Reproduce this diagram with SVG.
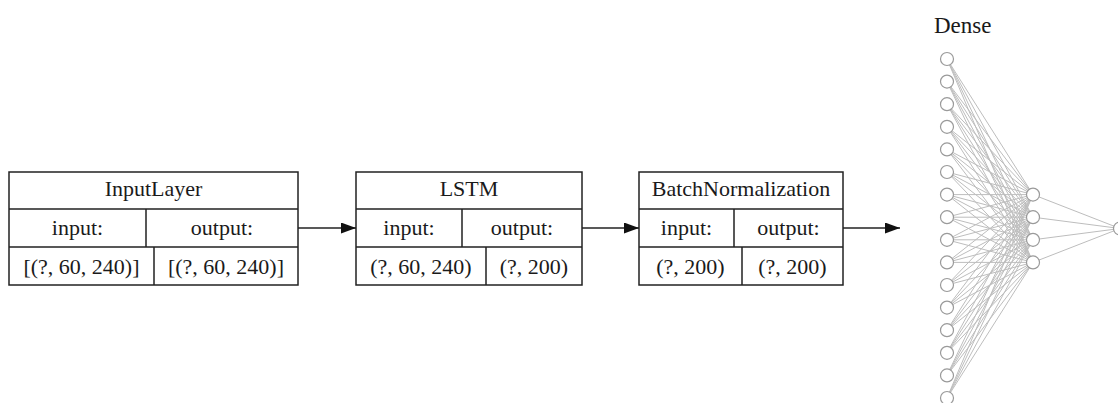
<svg xmlns="http://www.w3.org/2000/svg" width="1118" height="403" viewBox="0 0 1118 403">
<style>
.box{fill:#fff;stroke:#222;stroke-width:1.5}
.div{stroke:#222;stroke-width:1.5;fill:none}
.t{font-family:"Liberation Serif","Times New Roman",serif;font-size:22px;fill:#1a1a1a;text-anchor:middle}
.edge{stroke:#222;stroke-width:1.5;fill:none}
.syn{stroke:#bdbdbd;stroke-width:1;fill:none}
.neu{fill:#fff;stroke:#9a9a9a;stroke-width:1.2}
</style>
<defs>
<marker id="ah" markerUnits="userSpaceOnUse" markerWidth="16" markerHeight="12" refX="15" refY="5.5" orient="auto">
<path d="M0,0 L15,5.5 L0,11 z" fill="#111"/>
</marker>
</defs>
<rect width="1118" height="403" fill="#fff"/>

<g id="connectors">
<line class="edge" x1="298" y1="228" x2="356" y2="228" marker-end="url(#ah)"/>
<line class="edge" x1="582" y1="228" x2="639" y2="228" marker-end="url(#ah)"/>
<line class="edge" x1="843" y1="228" x2="900" y2="228" marker-end="url(#ah)"/>
</g>

<g id="inputlayer">
<rect class="box" x="9" y="172" width="289" height="113"/>
<path class="div" d="M9 209H298M9 247H298M146 209V247M154 247V285"/>
<text class="t" x="153.5" y="196">InputLayer</text>
<text class="t" x="77.5" y="235">input:</text>
<text class="t" x="222" y="235">output:</text>
<text class="t" x="81.5" y="274">[(?, 60, 240)]</text>
<text class="t" x="226" y="274">[(?, 60, 240)]</text>
</g>

<g id="lstm">
<rect class="box" x="356" y="172" width="226" height="113"/>
<path class="div" d="M356 209H582M356 247H582M462 209V247M486 247V285"/>
<text class="t" x="469" y="196">LSTM</text>
<text class="t" x="409" y="235">input:</text>
<text class="t" x="522" y="235">output:</text>
<text class="t" x="421" y="274">(?, 60, 240)</text>
<text class="t" x="534" y="274">(?, 200)</text>
</g>

<g id="batchnormalization">
<rect class="box" x="639" y="172" width="204" height="113"/>
<path class="div" d="M639 209H843M639 247H843M734 209V247M742 247V285"/>
<text class="t" x="741" y="196">BatchNormalization</text>
<text class="t" x="686.5" y="235">input:</text>
<text class="t" x="788.5" y="235">output:</text>
<text class="t" x="690.5" y="274">(?, 200)</text>
<text class="t" x="792.5" y="274">(?, 200)</text>
</g>

<g id="dense">
<text class="t" x="934" y="33" style="font-size:23px;text-anchor:start">Dense</text>
<g id="dense-synapses">
<line class="syn" x1="947" y1="59" x2="1033" y2="194.6"/><line class="syn" x1="947" y1="59" x2="1033" y2="217.2"/><line class="syn" x1="947" y1="59" x2="1033" y2="239.8"/><line class="syn" x1="947" y1="59" x2="1033" y2="262.4"/>
<line class="syn" x1="947" y1="81.6" x2="1033" y2="194.6"/><line class="syn" x1="947" y1="81.6" x2="1033" y2="217.2"/><line class="syn" x1="947" y1="81.6" x2="1033" y2="239.8"/><line class="syn" x1="947" y1="81.6" x2="1033" y2="262.4"/>
<line class="syn" x1="947" y1="104.2" x2="1033" y2="194.6"/><line class="syn" x1="947" y1="104.2" x2="1033" y2="217.2"/><line class="syn" x1="947" y1="104.2" x2="1033" y2="239.8"/><line class="syn" x1="947" y1="104.2" x2="1033" y2="262.4"/>
<line class="syn" x1="947" y1="126.8" x2="1033" y2="194.6"/><line class="syn" x1="947" y1="126.8" x2="1033" y2="217.2"/><line class="syn" x1="947" y1="126.8" x2="1033" y2="239.8"/><line class="syn" x1="947" y1="126.8" x2="1033" y2="262.4"/>
<line class="syn" x1="947" y1="149.4" x2="1033" y2="194.6"/><line class="syn" x1="947" y1="149.4" x2="1033" y2="217.2"/><line class="syn" x1="947" y1="149.4" x2="1033" y2="239.8"/><line class="syn" x1="947" y1="149.4" x2="1033" y2="262.4"/>
<line class="syn" x1="947" y1="172" x2="1033" y2="194.6"/><line class="syn" x1="947" y1="172" x2="1033" y2="217.2"/><line class="syn" x1="947" y1="172" x2="1033" y2="239.8"/><line class="syn" x1="947" y1="172" x2="1033" y2="262.4"/>
<line class="syn" x1="947" y1="194.6" x2="1033" y2="194.6"/><line class="syn" x1="947" y1="194.6" x2="1033" y2="217.2"/><line class="syn" x1="947" y1="194.6" x2="1033" y2="239.8"/><line class="syn" x1="947" y1="194.6" x2="1033" y2="262.4"/>
<line class="syn" x1="947" y1="217.2" x2="1033" y2="194.6"/><line class="syn" x1="947" y1="217.2" x2="1033" y2="217.2"/><line class="syn" x1="947" y1="217.2" x2="1033" y2="239.8"/><line class="syn" x1="947" y1="217.2" x2="1033" y2="262.4"/>
<line class="syn" x1="947" y1="239.8" x2="1033" y2="194.6"/><line class="syn" x1="947" y1="239.8" x2="1033" y2="217.2"/><line class="syn" x1="947" y1="239.8" x2="1033" y2="239.8"/><line class="syn" x1="947" y1="239.8" x2="1033" y2="262.4"/>
<line class="syn" x1="947" y1="262.4" x2="1033" y2="194.6"/><line class="syn" x1="947" y1="262.4" x2="1033" y2="217.2"/><line class="syn" x1="947" y1="262.4" x2="1033" y2="239.8"/><line class="syn" x1="947" y1="262.4" x2="1033" y2="262.4"/>
<line class="syn" x1="947" y1="285" x2="1033" y2="194.6"/><line class="syn" x1="947" y1="285" x2="1033" y2="217.2"/><line class="syn" x1="947" y1="285" x2="1033" y2="239.8"/><line class="syn" x1="947" y1="285" x2="1033" y2="262.4"/>
<line class="syn" x1="947" y1="307.6" x2="1033" y2="194.6"/><line class="syn" x1="947" y1="307.6" x2="1033" y2="217.2"/><line class="syn" x1="947" y1="307.6" x2="1033" y2="239.8"/><line class="syn" x1="947" y1="307.6" x2="1033" y2="262.4"/>
<line class="syn" x1="947" y1="330.2" x2="1033" y2="194.6"/><line class="syn" x1="947" y1="330.2" x2="1033" y2="217.2"/><line class="syn" x1="947" y1="330.2" x2="1033" y2="239.8"/><line class="syn" x1="947" y1="330.2" x2="1033" y2="262.4"/>
<line class="syn" x1="947" y1="352.8" x2="1033" y2="194.6"/><line class="syn" x1="947" y1="352.8" x2="1033" y2="217.2"/><line class="syn" x1="947" y1="352.8" x2="1033" y2="239.8"/><line class="syn" x1="947" y1="352.8" x2="1033" y2="262.4"/>
<line class="syn" x1="947" y1="375.4" x2="1033" y2="194.6"/><line class="syn" x1="947" y1="375.4" x2="1033" y2="217.2"/><line class="syn" x1="947" y1="375.4" x2="1033" y2="239.8"/><line class="syn" x1="947" y1="375.4" x2="1033" y2="262.4"/>
<line class="syn" x1="947" y1="398" x2="1033" y2="194.6"/><line class="syn" x1="947" y1="398" x2="1033" y2="217.2"/><line class="syn" x1="947" y1="398" x2="1033" y2="239.8"/><line class="syn" x1="947" y1="398" x2="1033" y2="262.4"/>
<line class="syn" x1="1033" y1="194.6" x2="1120" y2="228.5"/><line class="syn" x1="1033" y1="217.2" x2="1120" y2="228.5"/><line class="syn" x1="1033" y1="239.8" x2="1120" y2="228.5"/><line class="syn" x1="1033" y1="262.4" x2="1120" y2="228.5"/>
</g>
<g id="dense-input-neurons">
<circle class="neu" cx="947" cy="59" r="6.5"/><circle class="neu" cx="947" cy="81.6" r="6.5"/><circle class="neu" cx="947" cy="104.2" r="6.5"/><circle class="neu" cx="947" cy="126.8" r="6.5"/>
<circle class="neu" cx="947" cy="149.4" r="6.5"/><circle class="neu" cx="947" cy="172" r="6.5"/><circle class="neu" cx="947" cy="194.6" r="6.5"/><circle class="neu" cx="947" cy="217.2" r="6.5"/>
<circle class="neu" cx="947" cy="239.8" r="6.5"/><circle class="neu" cx="947" cy="262.4" r="6.5"/><circle class="neu" cx="947" cy="285" r="6.5"/><circle class="neu" cx="947" cy="307.6" r="6.5"/>
<circle class="neu" cx="947" cy="330.2" r="6.5"/><circle class="neu" cx="947" cy="352.8" r="6.5"/><circle class="neu" cx="947" cy="375.4" r="6.5"/><circle class="neu" cx="947" cy="398" r="6.5"/>
</g>
<g id="dense-hidden-neurons">
<circle class="neu" cx="1033" cy="194.6" r="6.5"/><circle class="neu" cx="1033" cy="217.2" r="6.5"/><circle class="neu" cx="1033" cy="239.8" r="6.5"/><circle class="neu" cx="1033" cy="262.4" r="6.5"/>
</g>
<g id="dense-output-neuron">
<circle class="neu" cx="1120" cy="228.5" r="6.5"/>
</g>
</g>
</svg>
